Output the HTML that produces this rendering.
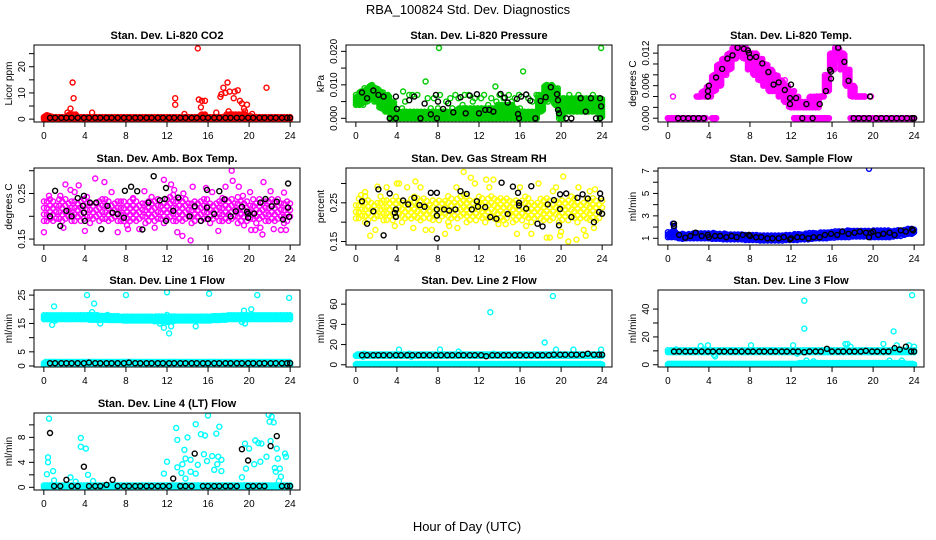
<!DOCTYPE html>
<html><head><meta charset="utf-8"><style>
body{margin:0;background:#fff}
svg{display:block;font-family:"Liberation Sans",sans-serif}
</style></head><body>
<svg id="chart" width="936" height="540" viewBox="0 0 936 540" xmlns="http://www.w3.org/2000/svg">
<rect width="936" height="540" fill="#fff"/>
<text x="468" y="14" text-anchor="middle" font-size="13">RBA_100824  Std. Dev. Diagnostics</text>
<text x="467" y="531" text-anchor="middle" font-size="13">Hour of Day (UTC)</text>
</svg>
<script>
// ---------- data ----------
const xTicks = [0,4,8,12,16,20,24];
const titles = ["Stan. Dev. Li-820 CO2","Stan. Dev. Li-820 Pressure","Stan. Dev. Li-820 Temp.","Stan. Dev. Amb. Box Temp.","Stan. Dev. Gas Stream RH","Stan. Dev. Sample Flow","Stan. Dev. Line 1 Flow","Stan. Dev. Line 2 Flow","Stan. Dev. Line 3 Flow","Stan. Dev. Line 4 (LT) Flow"];
const yLabels = ["Licor ppm","kPa","degrees C","degrees C","percent","ml/min","ml/min","ml/min","ml/min","ml/min"];
const colors = ["#ff0000","#00cc00","#ff00ff","#ff00ff","#ffff00","#0000ff","#00ffff","#00ffff","#00ffff","#00ffff"];
const yDomains = [[-1.1,28.3],[-0.0011,0.0219],[-0.0007,0.0135],[0.137,0.306],[0.141,0.340],[0.40,7.27],[-0.35,26.8],[-2.2,74],[-1.6,53.7],[-0.43,11.9]];
const yTicks = [[0,5,10,15,20,25],[0,0.005,0.01,0.015,0.02],[0,0.002,0.004,0.006,0.008,0.01,0.012],[0.15,0.2,0.25,0.3],[0.15,0.2,0.25,0.3],[1,2,3,4,5,6,7],[0,5,10,15,20,25],[0,20,40,60],[0,10,20,30,40],[0,2,4,6,8,10]];
const yTickLabels = [["0","","10","","20",""],["0.000","","0.010","","0.020"],["0.000","","","0.006","","","0.012"],["0.15","","0.25",""],["0.15","","0.25",""],["1","","3","","5","","7"],["0","5","","15","","25"],["0","20","40","60"],["0","","20","","40"],["0","","4","","8",""]];

// half-hourly bands (hour = index*0.5); null = no data
const p1BandLo = [0,0,0,0,0,0,0,0,0,0,0,0,0,0,0,0,0,0,0,0,0,0,0,0,0,0,0,0,0,0,0,0,0,0,0,0,0,0,0,0,0,0,0,0,0,0,0,0,0];
const p1BandHi = [1.5,1.5,1,1,1,2,2,1,1,1,1,1,1,1,1,1,1,1,1,1,1,1,1,1,1,1,1,1,1,1,1,2,1,1,1,1,2,2,2,2,1.5,1,1,1,1,1,1,1,1];
const p2BandLo = [0.004,0.004,0.005,0.006,0.005,0.003,0.002,0,0,0,0,0,0,0,0,0,0,0,0,0,0,0,0,0,0,0,0,0,0,0,0,0,0,0,0,0,0.002,0.005,0.007,0.004,0,0.002,0.002,0.002,0.002,0.002,0.002,0.002,0];
const p2BandHi = [0.007,0.008,0.009,0.010,0.009,0.008,0.007,0.005,0.002,0.002,0.002,0.002,0.002,0.002,0.002,0.002,0.002,0.002,0.002,0.002,0.003,0.003,0.003,0.003,0.003,0.003,0.003,0.003,0.004,0.004,0.004,0.003,0.002,0.002,0.002,0.002,0.007,0.010,0.010,0.009,0.006,0.006,0.006,0.006,0.006,0.006,0.006,0.006,0.006];
const p3BandLo = [null,null,null,null,null,null,0.004,0.004,0.004,0.005,0.006,0.008,0.009,0.011,0.012,0.011,0.009,0.008,0.007,0.006,0.005,0.005,0.004,0.003,0.002,0.002,0.002,0.002,0.002,0.002,0.004,0.005,0.009,0.011,0.009,0.006,0.004,0.004,0.004,null,null,null,null,null,null,null,null,null,null];
const p3BandHi = [null,null,null,null,null,null,0.004,0.005,0.006,0.008,0.010,0.011,0.012,0.013,0.013,0.013,0.012,0.012,0.011,0.010,0.009,0.008,0.007,0.006,0.005,0.004,0.003,0.003,0.004,0.004,0.004,0.008,0.012,0.013,0.012,0.009,0.006,0.004,0.004,null,null,null,null,null,null,null,null,null,null];
const p3ZeroLo = [0,0,0,0,0,0,0,0,null,0,null,null,null,null,null,null,null,null,null,null,null,null,null,null,null,0,0,0,0,0,0,0,null,null,null,null,0,0,0,0,0,0,0,0,0,0,0,0,0];
const p3ZeroHi = [0,0,0,0,0,0,0,0,null,0,null,null,null,null,null,null,null,null,null,null,null,null,null,null,null,0,0,0,0,0,0,0,null,null,null,null,0,0,0,0,0,0,0,0,0,0,0,0,0];
const p4BandLo = [0.19,0.185,0.19,0.185,0.19,0.19,0.185,0.19,0.19,0.185,0.19,0.19,0.185,0.19,0.19,0.185,0.18,0.185,0.19,0.19,0.185,0.19,0.19,0.185,0.19,0.19,0.185,0.19,0.19,0.185,0.19,0.19,0.185,0.19,0.19,0.185,0.19,0.19,0.185,0.19,0.19,0.185,0.19,0.19,0.185,0.19,0.19,0.185,0.19];
const p4BandHi = [0.235,0.24,0.235,0.24,0.245,0.24,0.235,0.24,0.245,0.24,0.235,0.24,0.24,0.235,0.24,0.245,0.235,0.24,0.24,0.235,0.24,0.245,0.24,0.235,0.245,0.25,0.24,0.245,0.24,0.235,0.24,0.245,0.24,0.235,0.24,0.24,0.235,0.24,0.245,0.24,0.235,0.24,0.24,0.235,0.24,0.245,0.24,0.235,0.24];
const p5BandLo = [0.21,0.205,0.2,0.205,0.21,0.205,0.2,0.205,0.21,0.2,0.205,0.21,0.2,0.205,0.21,0.2,0.205,0.21,0.2,0.205,0.21,0.21,0.2,0.205,0.21,0.2,0.205,0.21,0.2,0.205,0.21,0.2,0.205,0.21,0.2,0.205,0.21,0.2,0.205,0.21,0.2,0.205,0.21,0.2,0.205,0.21,0.2,0.205,0.21];
const p5BandHi = [0.26,0.265,0.27,0.265,0.26,0.27,0.265,0.26,0.27,0.265,0.26,0.27,0.265,0.27,0.26,0.27,0.265,0.26,0.27,0.265,0.27,0.275,0.27,0.265,0.27,0.265,0.27,0.275,0.27,0.265,0.27,0.265,0.26,0.27,0.265,0.26,0.27,0.265,0.26,0.27,0.265,0.26,0.27,0.265,0.26,0.27,0.265,0.26,0.265];
const p6BandLo = [1.1,1.1,1.0,0.95,1.0,1.0,1.0,1.0,1.0,0.95,0.95,0.9,0.9,0.9,0.9,0.85,0.85,0.85,0.8,0.8,0.8,0.8,0.8,0.85,0.85,0.85,0.9,0.9,0.95,1.0,1.0,1.0,1.05,1.1,1.1,1.1,1.15,1.15,1.15,1.15,1.1,1.1,1.1,1.1,1.15,1.2,1.3,1.4,1.4];
const p6BandHi = [1.6,1.7,1.4,1.4,1.4,1.45,1.5,1.5,1.5,1.5,1.45,1.45,1.4,1.4,1.4,1.35,1.35,1.3,1.3,1.3,1.3,1.3,1.3,1.35,1.35,1.4,1.4,1.45,1.5,1.5,1.55,1.55,1.6,1.65,1.65,1.7,1.7,1.7,1.7,1.7,1.7,1.7,1.7,1.7,1.7,1.75,1.8,1.9,1.9];
const p7BandLo = [16.5,16.5,16.5,16.5,16.5,16.5,16.5,16.5,16.5,16.3,16.3,16.3,16.3,16.2,16.2,16.2,16.0,16.0,16.0,16.0,16.0,16.0,15.8,15.8,15.5,15.8,16.0,16.0,16.0,16.0,16.0,16.0,16.0,16.2,16.2,16.3,16.5,16.5,16.5,16.5,16.5,16.5,16.5,16.5,16.5,16.5,16.5,16.5,16.5];
const p7BandHi = [18,18,18,18,18,18,18,18,18,18,18,17.8,17.8,17.8,17.8,17.5,17.5,17.5,17.5,17.5,17.5,17.5,17.5,17.5,17.5,17.5,17.5,17.5,17.5,17.5,17.5,17.5,17.5,17.8,17.8,17.8,18,18,18,18,18,18,18,18,18,18,18,18,18];
const lineBaseLo = [0.3,0.3,0.3,0.3,0.3,0.3,0.3,0.3,0.3,0.3,0.3,0.3,0.3,0.3,0.3,0.3,0.3,0.3,0.3,0.3,0.3,0.3,0.3,0.3,0.3,0.3,0.3,0.3,0.3,0.3,0.3,0.3,0.3,0.3,0.3,0.3,0.3,0.3,0.3,0.3,0.3,0.3,0.3,0.3,0.3,0.3,0.3,0.3,0.3];
const p7BaseHi = [1.5,1.5,1.5,1.5,1.5,1.5,1.5,1.5,1.5,1.5,1.5,1.5,1.5,1.5,1.5,1.5,1.5,1.5,1.5,1.5,1.5,1.5,1.5,1.5,1.5,1.5,1.5,1.5,1.5,1.5,1.5,1.5,1.5,1.5,1.5,1.5,1.5,1.5,1.5,1.5,1.5,1.5,1.5,1.5,1.5,1.5,1.5,1.5,1.5];
const p8BandLo = [9,9,9,9,9,9,9,9,9,9,9,9,9,9,9,9,9,9,9,9,9,9,9,9,9,9,9,9,9,9,9,9,9,9,9,9,9,9,9,9,9,9,9,9,9,9,9,9,9];
const p8BandHi = [10.5,10.5,10.5,10.5,10.5,10.5,10.5,10.5,10.5,10.5,10.5,10.5,10.5,10.5,10.5,10.5,10.5,10.5,10.5,10.5,10.5,10.5,10.5,10.5,10.5,10.5,10.5,10.5,10.5,10.5,10.5,10.5,10.5,10.5,10.5,10.5,10.5,10.5,10.5,10.5,10.5,10.5,10.5,10.5,10.5,10.5,10.5,10.5,10.5];
const lineBaseHi = [1,1,1,1,1,1,1,1,1,1,1,1,1,1,1,1,1,1,1,1,1,1,1,1,1,1,1.5,1.5,1.5,1.5,1.5,1.5,1.5,1.5,1.5,1.5,1.5,1.5,1.5,1.5,1.5,1.5,1.5,1.5,1.5,1.5,1.5,1,1];
const p10BaseLo = [0,0,0,0,0,0,0,0,0,0,0,0,0,0,0,0,0,0,0,0,0,0,0,0,0,0,0,0,0,0,0,0,0,0,0,0,0,0,0,0,0,0,0,0,0,0,0,0,0];
const p10BaseHi = [0.4,0.4,0.4,0.4,0.4,0.4,0.4,0.4,0.4,0.4,0.4,0.4,0.4,0.4,0.4,0.4,0.4,0.4,0.4,0.4,0.4,0.4,0.4,0.4,0.4,0.4,0.4,0.4,0.4,0.4,0.4,0.4,0.4,0.4,0.4,0.4,0.4,0.4,0.4,0.4,0.4,0.4,0.4,0.4,0.4,0.4,0.4,0.4,0.4];

// colored scatter points
const p1ScH = [0.3,2.3,2.6,2.8,2.9,4.7,12.8,12.8,13.7,15,15.1,15.3,15.4,15.7,16.8,17.2,17.3,17.5,17.7,17.9,18,18.1,18.5,18.6,18.9,19.1,19.3,19.5,19.6,19.8,20.3,21.7];
const p1ScV = [1.5,2.5,4,14,8,2.5,8,5.5,2,27,7.5,4.5,7,7,2.5,8.5,9.5,12,10,14,3,10.5,8,10.5,11,7,6,4,3,5.5,2,12];
const p2ScH = [1.2,4.5,4.6,4.8,5.2,5.5,6,6.8,7,7.3,7.6,8.1,8.2,8.8,9.2,9.4,9.7,10,10.4,10.6,11,11.4,11.6,12.2,12.5,12.9,13.2,13.6,13.7,14,14.4,14.9,15.2,15.5,15.9,16.3,16.8,17.2,17.6,17.8,8,16,23.9,20.8,21.3,21.7,22.5,23.1,5.9,3.2];
const p2ScV = [0.007,0.003,0.008,0.005,0.007,0.007,0.007,0.011,0.006,0.003,0.006,0.021,0.007,0.005,0.006,0.003,0.007,0.006,0.004,0.007,0.007,0.005,0.006,0.006,0.007,0.004,0.006,0.0095,0.005,0.007,0.006,0.007,0.005,0.006,0.007,0.014,0.006,0.005,0.007,0.003,0.003,0.003,0.021,0.007,0.004,0.007,0.003,0.007,0.001,0.004];
const p3ScH = [0.5,4.7,3.7,11.4,12.3,14.5,19.8];
const p3ScV = [0.004,0,0.004,0.007,0.005,0.004,0.004];
const p4ScH = [0,1.9,2.1,2.6,3.4,4,5,5.9,7.2,8.2,9.3,10.8,11.7,12.4,13,13.5,14.3,14.5,15.8,17,17.7,18.3,18.4,19,19.5,20.2,20.6,21.1,21.3,21.4,22.4,23.1,23.4,23.6,1.6,3,6.6,9.8,12.7,16.4,20.1,22.1,0.5,8.7,13.6,19.4,17.4];
const p4ScV = [0.165,0.175,0.27,0.258,0.268,0.168,0.283,0.275,0.165,0.172,0.172,0.175,0.28,0.27,0.165,0.157,0.147,0.265,0.262,0.168,0.265,0.3,0.278,0.265,0.18,0.17,0.17,0.175,0.16,0.275,0.172,0.17,0.252,0.17,0.245,0.253,0.253,0.255,0.258,0.253,0.253,0.255,0.245,0.24,0.25,0.245,0.24];
const p5ScH = [0.5,0.9,1.4,1.9,2.1,3.8,4,4.2,5,5.6,5.8,6.8,7.4,8.7,9.1,9.9,10.5,11.2,11.6,12.7,13.4,13.9,14.6,15.7,16.6,17.1,17.8,18.6,18.9,19.5,19.9,20,20.2,20.7,21.5,21.7,22.2,22.4,23.2,23.3,0.3,3,6.3,9.8,13,16,19.2,22.8];
const p5ScV = [0.27,0.278,0.165,0.18,0.292,0.19,0.3,0.3,0.29,0.185,0.305,0.18,0.18,0.17,0.19,0.185,0.33,0.315,0.3,0.31,0.31,0.195,0.195,0.17,0.19,0.17,0.3,0.16,0.16,0.29,0.165,0.175,0.318,0.15,0.155,0.29,0.18,0.165,0.185,0.285,0.225,0.29,0.29,0.29,0.29,0.29,0.28,0.28];
const p6ScH = [0.5,0.6,19.6];
const p6ScV = [2.3,2.0,7.2];
const p7ScH = [0.8,1,1.1,4.2,4.7,4.9,5.5,6.2,8,11.3,11.7,12,12,12.2,12.4,14.8,16.1,19.3,19.5,19.6,20.2,20.8,23.9];
const p7ScV = [14.5,21,16,25,19,22,15,18,25,15,13.5,26,18,11.5,14,14,25.5,15.5,19.5,15,20,25,24];
const p8ScH = [0.8,4.2,5.2,5.4,8.2,13.1,13.4,18.4,19.2,19.5,21.2,23.9,0.7,10];
const p8ScV = [11,15,11,8,15,52,11,22,68,15,15,15,8,13];
const p9ScH = [0.8,3.2,3.5,4.5,4.6,8.1,12.2,12.6,13.3,13.3,17.3,17.5,17.8,21,22,22.3,23.8,24,23.5,3.9,13.5,14.2,21.6,22.8];
const p9ScV = [11,13.5,11,7,6,14,14,8,46,26,15,15,13,15,24,14,50,13,14,14,3,2.5,3,3];
const p10ScH = [0.5,0.4,0.4,0.3,0.9,1,3.6,3.6,4.1,4.3,4.8,2.6,3.1,12,11.7,12.9,13,13,13.4,13.5,13.7,13.8,13.8,14,14.3,14.3,14.8,14.8,15,15.3,15.6,15.7,15.9,16,16.4,16.6,16.8,16.9,17,17.1,17.3,17.3,19.3,19.6,19.7,20,20.5,20.6,20.9,21.2,21.1,21.7,21.9,22,22.1,22.4,22.5,22.7,22.8,22.9,23,23.1,23.5,23.6,22.6,22.2];
const p10ScV = [11,4.8,4,2.1,2.6,1.1,7.9,6.5,6.2,2,1,1.6,0.9,4.1,2.2,9.5,7.6,3.2,2.3,3.7,6,4.6,1.4,8,4.4,2.5,10.1,2.2,3.6,8.5,5.3,8.3,4.2,11.5,5,2.8,8.6,3.7,4.9,9.7,2.6,4.4,1.6,7,3,6.2,3.7,7.5,7.1,7,4.1,4.9,11.6,10.5,7.4,10.4,3.1,6.2,4.6,1,3,1.7,5.4,4.9,2.5,11.3];

// black points
const p1BkH = [0.6,1.1,1.7,2.2,2.7,3.3,3.9,4.4,5,5.5,6.1,6.6,7.2,7.8,8.3,8.9,9.4,10,10.5,11.1,11.6,12.2,12.7,13.3,13.8,14.4,14.9,15.5,16,16.6,17.1,17.7,18.2,18.8,19.3,19.9,20.4,21,21.5,22.1,22.6,23.2,23.7,24];
const p1BkV = [0.5,0.5,0.5,0.5,0.5,0.5,0.5,0.5,0.5,0.5,0.5,0.5,0.5,0.5,0.5,0.5,0.5,0.5,0.5,0.5,0.5,0.5,0.5,0.5,0.5,0.5,0.5,0.5,0.5,0.5,0.5,0.5,0.5,0.5,0.5,0.5,0.5,0.5,0.5,0.5,0.5,0.5,0.5,0.5];
const p2BkH = [0.6,1.1,1.7,2.2,2.7,3.3,3.9,3.9,4,5.2,5.7,6.3,6.7,7.3,7.8,7.9,8,8.5,9,9.5,10.2,10.7,11.1,11.8,12,12.6,13,13.4,14.1,14.5,14.8,15.7,15.8,15.9,16.1,16.6,17,17.5,18,18.5,19,19.6,19.7,19.7,19.8,20.5,21,21.9,22.4,22.9,23.4,23.8,23.8,23.9];
const p2BkV = [0.0077,0.006,0.0083,0.007,0.0065,0,0.0065,0,0.0028,0.0054,0.0065,0,0.0044,0.0012,0.007,0,0.005,0.0028,0.0045,0.0018,0.0063,0.0015,0.0068,0.0072,0.0015,0.0025,0.0025,0.002,0.0073,0.0062,0.0047,0.0058,0.0013,0,0.0065,0.0071,0.0053,0,0.0052,0.0063,0.0093,0.0072,0.0054,0.0025,0.0015,0,0,0.006,0.002,0.006,0,0,0.006,0.0036];
const p3BkH = [1,1.5,2,2.5,3,3.5,3.9,3.9,4,4.7,5.3,5.8,6.3,6.8,7.4,7.8,7.9,8,8.6,9.2,9.8,10.3,10.8,11.4,11.9,11.9,12,12.5,13.1,13.5,14.1,14.8,15.4,15.8,15.9,15.9,16.6,17.2,17.6,18.1,18.6,19.1,19.6,19.7,20.3,20.8,21.3,21.8,22.3,22.8,23.3,23.8,24];
const p3BkV = [0,0,0,0,0,0,0.004,0.005,0.006,0.0075,0.0091,0.011,0.0116,0.013,0.0128,0.0125,0.012,0.0112,0.0113,0.0101,0.0085,0.0062,0.0066,0.0052,0.0037,0.0026,0.0062,0.0037,0,0.0026,0,0.0026,0.005,0.0089,0.0086,0.0073,0.013,0.0104,0.0069,0,0,0,0,0.004,0,0,0,0,0,0,0,0,0];
const p4BkH = [0.6,1.1,1.6,2.2,2.7,3.3,3.8,3.9,3.9,4,4.5,5.1,5.6,6.2,6.7,7.2,7.8,7.9,8.5,9.1,9.6,10.2,10.7,11.3,11.8,11.9,11.9,12.6,13.1,14.2,14.7,15.3,15.9,15.9,16,16.6,17.1,17.6,18.2,18.7,19.3,19.8,19.9,19.9,20.5,21.1,21.6,22.2,22.7,23.3,23.8,23.8,23.9];
const p4BkV = [0.2,0.256,0.179,0.212,0.2,0.24,0.223,0.245,0.208,0.19,0.23,0.23,0.172,0.223,0.208,0.205,0.197,0.256,0.265,0.255,0.171,0.23,0.288,0.235,0.238,0.262,0.19,0.212,0.241,0.2,0.222,0.19,0.219,0.258,0.194,0.205,0.255,0.237,0.2,0.211,0.221,0.21,0.197,0.206,0.206,0.23,0.238,0.222,0.232,0.193,0.272,0.219,0.199];
const p5BkH = [0.6,1.1,1.7,2.2,2.7,3.3,3.8,3.9,3.9,4.6,5.1,5.7,6.2,6.7,7.3,7.9,7.9,7.9,7.9,8.6,9.1,9.7,10.2,10.8,11.3,11.8,11.9,12.6,13.1,13.7,14.2,14.8,15.3,15.8,15.9,15.9,16.6,17.1,17.7,18.2,18.7,19.3,19.8,19.9,19.9,20.5,21,21.6,22.1,22.6,23.2,23.7,23.8,23.9,24];
const p5BkV = [0.254,0.196,0.228,0.285,0.166,0.274,0.224,0.233,0.214,0.256,0.246,0.263,0.244,0.24,0.276,0.233,0.276,0.217,0.158,0.233,0.23,0.233,0.28,0.273,0.233,0.254,0.24,0.239,0.213,0.209,0.302,0.221,0.292,0.276,0.25,0.243,0.235,0.293,0.196,0.189,0.246,0.257,0.192,0.272,0.234,0.274,0.213,0.263,0.272,0.261,0.2,0.226,0.274,0.261,0.222];
const p6BkH = [0.6,0.6,1.1,1.7,2.2,2.7,3.3,3.9,4,4.6,5.1,5.7,6.2,6.7,7.3,7.9,8,8.6,9.1,9.7,10.2,10.8,11.3,11.9,12,12.6,13.1,13.7,14.2,14.8,15.3,15.9,16.5,17,17.6,18.2,18.7,19.3,19.6,19.8,20,20.5,21,21.6,22.1,22.7,23.2,23.8,23.9];
const p6BkV = [2.3,2.1,1.3,1.05,1.2,1.5,1.2,1.3,1.1,1.2,1.2,1.1,1.2,1.1,1.3,1.3,1.2,1.1,1.1,1.0,1.0,1.0,1.1,0.9,1.0,1.1,1.1,1.0,1.1,1.1,1.3,1.4,1.3,1.6,1.4,1.5,1.6,1.5,1.1,1.5,1.6,1.3,1.4,1.5,1.3,1.7,1.6,1.8,1.7];
const lineBkH = [0.6,1.1,1.7,2.2,2.7,3.3,3.9,4.4,5,5.5,6.1,6.6,7.2,7.8,8.3,8.9,9.4,10,10.5,11.1,11.6,12.2,12.7,13.3,13.8,14.4,14.9,15.5,16,16.6,17.1,17.7,18.2,18.8,19.3,19.9,20.4,21,21.5,22.1,22.6,23.2,23.7,24];
const p7BkV = [1,1,1,1,1,1,1,1.2,1,1,1,1,1,1,1.2,1,1,1,1,1,1,1,1,1,1,1,1,1,1,1,1,1,1,1,1,1,1,1,1,1,1,1,1,1];
const p8BkV = [9.5,9.5,9.5,9.5,9.5,9.5,9.5,9.5,9.5,9.5,9.5,9.5,9.5,9.5,9.5,9.5,9.5,9.5,9.5,9.5,9.5,9.5,8.5,9.5,9.5,9.5,9.5,9.5,9.5,9.5,9.5,9.5,9.5,9.5,10,10,10,10,10,10,11,10,10,10];
const p9BkV = [9.5,9.5,9.5,9.5,9.5,9.5,9.5,9.5,9.5,9.5,9.5,9.5,9.5,9.5,9.5,9.5,9.5,9.5,9.5,9.5,9.5,9.5,9.5,9,9.5,9.5,9.5,11.5,9.5,9.5,9.5,9.5,9.5,9.5,10,9.5,9.5,9.5,9.5,12,11,13,9.5,9.5];
const p10BkH = [0.6,2.2,3.9,6.7,12.6,14.7,19.3,19.9,22.1,22.7,1,1.6,2.7,3.3,4.4,5,5.5,6.1,7.2,7.8,8.3,8.9,9.4,10,10.5,11.1,11.6,12.2,13.3,13.8,14.4,15.5,16,16.6,17.1,17.7,18.2,18.8,19.9,20.4,21,21.5,23.2,23.7,24];
const p10BkV = [8.7,1.2,3.3,1.2,1.4,5.4,6.1,4.3,6.6,8.2,0.2,0.2,0.2,0.2,0.2,0.2,0.2,0.4,0.2,0.2,0.2,0.2,0.2,0.2,0.2,0.2,0.2,0.2,0.2,0.2,0.2,0.2,0.2,0.2,0.2,0.2,0.2,0.2,0.2,0.2,0.2,0.2,0.2,0.2,0.2];

// ---------- rendering ----------
const svg = document.getElementById('chart');
const NS = 'http://www.w3.org/2000/svg';
const COL_X = [34,346,658], ROW_Y = [45,168,290,413], W = 266, H = 77;
const XMIN = -0.96, XMAX = 24.96;
function mk(tag, attrs, parent){const e=document.createElementNS(NS,tag);for(const k in attrs)e.setAttribute(k,attrs[k]);(parent||svg).appendChild(e);return e;}

const panels = [
 {bands:[[p1BandLo,p1BandHi,0.1,2]], sc:[p1ScH,p1ScV], bk:[p1BkH,p1BkV]},
 {bands:[[p2BandLo,p2BandHi,0.12,2.5]], sc:[p2ScH,p2ScV], bk:[p2BkH,p2BkV]},
 {bands:[[p3BandLo,p3BandHi,0.1,2],[p3ZeroLo,p3ZeroHi,0.1,2]], sc:[p3ScH,p3ScV], bk:[p3BkH,p3BkV]},
 {bands:[[p4BandLo,p4BandHi,0.3,6.5]], sc:[p4ScH,p4ScV], bk:[p4BkH,p4BkV]},
 {bands:[[p5BandLo,p5BandHi,0.3,6.5]], sc:[p5ScH,p5ScV], bk:[p5BkH,p5BkV]},
 {bands:[[p6BandLo,p6BandHi,0.12,2.5]], sc:[p6ScH,p6ScV], bk:[p6BkH,p6BkV]},
 {bands:[[p7BandLo,p7BandHi,0.1,2],[lineBaseLo,p7BaseHi,0.1,2]], sc:[p7ScH,p7ScV], bk:[lineBkH,p7BkV]},
 {bands:[[p8BandLo,p8BandHi,0.1,2],[lineBaseLo,lineBaseHi,0.1,2]], sc:[p8ScH,p8ScV], bk:[lineBkH,p8BkV]},
 {bands:[[p8BandLo,p8BandHi,0.1,2],[lineBaseLo,lineBaseHi,0.1,2]], sc:[p9ScH,p9ScV], bk:[lineBkH,p9BkV]},
 {bands:[[p10BaseLo,p10BaseHi,0.1,2]], sc:[p10ScH,p10ScV], bk:[p10BkH,p10BkV]}
];

panels.forEach((p, i) => {
  const x0 = COL_X[i%3], y0 = ROW_Y[Math.floor(i/3)];
  const [dmin, dmax] = yDomains[i];
  const xs = h => x0 + (h - XMIN) / (XMAX - XMIN) * W;
  const ys = v => y0 + H - (v - dmin) / (dmax - dmin) * H;
  const g = mk('g', {});
  
  
  const t = mk('text', {x: x0 + W/2, y: y0 - 6, 'text-anchor':'middle', 'font-size':11, 'font-weight':'bold'}, g);
  
  
  t.textContent = titles[i];
  const clip = mk('clipPath', {id:'c'+i}, g);
  mk('rect', {x:x0, y:y0, width:W, height:H}, clip);
  const marks = mk('g', {'clip-path':'url(#c'+i+')'}, g);
  
  
  const col = colors[i];
  function dot(h, v, c){
    return mk('circle', {cx: xs(h).toFixed(1), cy: ys(v).toFixed(1), r: 2.5, fill:'none', stroke:c, 'stroke-width':1.4}, marks);
  }
  p.bands.forEach(([lo, hi, dt, vs]) => {
    let k = 0;
    for (let h = 0; h <= 24.001; h += dt, k++) {
      const idx = Math.round(h*2);
      if (lo[idx] == null || hi[idx] == null) continue;
      const yl = ys(lo[idx]), yh = ys(hi[idx]);
      const off = (k % 3) * vs / 3;
      for (let y = yl - off; y >= yh - 0.01; y -= vs) {
        const v = dmin + (y0 + H - y) / H * (dmax - dmin);
        dot(h, v, col);
      }
      if (yl - yh < vs) dot(h, lo[idx], col);
    }
  });
  p.sc[0].forEach((h, j) => dot(h, p.sc[1][j], col));
  p.bk[0].forEach((h, j) => dot(h, p.bk[1][j], '#000'));
  const box = mk('rect', {x:x0, y:y0, width:W, height:H, fill:'none', stroke:'#000', 'stroke-width':1}, g);
  
  
  const xa = mk('g', {}, g);
  
  
  mk('line', {x1:xs(0), x2:xs(24), y1:y0+H, y2:y0+H, stroke:'#000'}, xa);
  xTicks.forEach(v => {
    mk('line', {x1:xs(v), x2:xs(v), y1:y0+H, y2:y0+H+5, stroke:'#000'}, xa);
    const tl = mk('text', {x:xs(v), y:y0+H+17, 'text-anchor':'middle', 'font-size':10}, xa);
    tl.textContent = v;
  });
  const ya = mk('g', {}, g);
  
  
  const tk = yTicks[i];
  mk('line', {x1:x0, x2:x0, y1:ys(tk[0]), y2:ys(tk[tk.length-1]), stroke:'#000'}, ya);
  tk.forEach((v, j) => {
    const yy = ys(v);
    mk('line', {x1:x0-5, x2:x0, y1:yy, y2:yy, stroke:'#000'}, ya);
    const lab = yTickLabels[i][j];
    if (lab) {
      const tl = mk('text', {x:0, y:0, 'text-anchor':'middle', 'font-size':10, transform:`translate(${x0-9},${yy}) rotate(-90)`}, ya);
      tl.textContent = lab;
    }
  });
  const yl = mk('text', {x:0, y:0, 'text-anchor':'middle', 'font-size':10, transform:`translate(${x0-22},${y0+H/2}) rotate(-90)`}, ya);
  
  
  yl.textContent = yLabels[i];
});
</script>
</body></html>
